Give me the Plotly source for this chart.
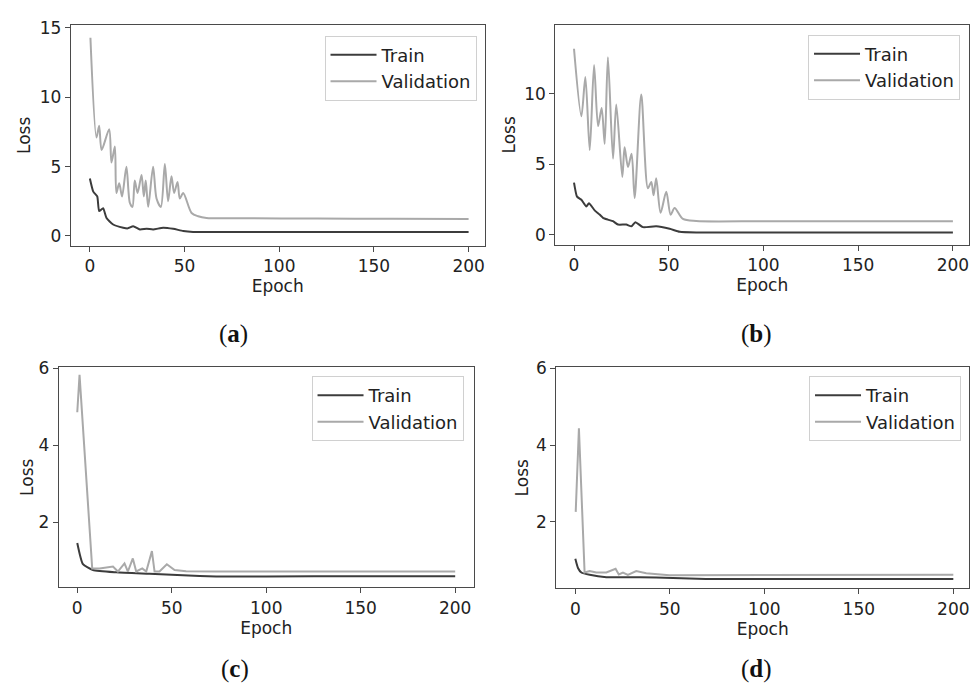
import plotly.graph_objects as go

# ---------------- data ----------------
# (a)
a_train_ep = [0, 1.8, 3.9, 4.9, 7, 8.8, 12.3, 17.6, 20, 22.9, 26.4, 30, 33.4, 38.7, 44, 49.3, 54.5, 70, 100, 150, 200]
a_train = [4.15, 3.2, 2.85, 1.8, 2.0, 1.3, 0.83, 0.6, 0.55, 0.7, 0.47, 0.52, 0.47, 0.6, 0.52, 0.36, 0.29, 0.28, 0.28, 0.28, 0.28]
a_val_ep = [0.3, 3.5, 4.9, 6.2, 10.2, 11.4, 13.2, 14, 15.5, 17, 19.3, 21.1, 22.5, 23.7, 25.2, 27.3, 28.5, 29.5,
            30.8, 33.4, 35.2, 37.5, 39.6, 41.3, 43.1, 44.5, 46.3, 47.5, 49.3, 53.7, 57.2, 61.6, 80, 120, 160, 200]
a_val = [14.3, 7.1, 7.95, 6.2, 7.7, 5.3, 6.45, 3.1, 3.8, 2.85, 5.0, 2.4, 2.1, 4.0, 3.1, 4.4, 2.85, 4.0,
         2.1, 5.0, 2.7, 2.1, 5.2, 2.5, 4.3, 3.1, 3.9, 2.7, 3.1, 1.66, 1.42, 1.3, 1.28, 1.26, 1.24, 1.23]

# (b)
b_train_ep = [0, 1.6, 3.9, 6.5, 7.9, 10.9, 13.5, 15.3, 17.9, 20.6, 23.2, 27.6, 30.3, 32.4, 36.4, 43.4, 50.5, 55.8, 64.5, 100, 150, 200]
b_train = [3.7, 2.7, 2.48, 2.0, 2.24, 1.73, 1.43, 1.2, 1.07, 0.96, 0.72, 0.72, 0.6, 0.89, 0.54, 0.6, 0.42, 0.21, 0.16, 0.16, 0.16, 0.16]
b_val_ep = [0, 3.9, 6, 8.3, 10.6, 12.7, 14.6, 16.2, 17.9, 20.6, 22.3, 25.5, 26.7, 28.5, 30.4, 32, 35.5, 39, 40.8,
            42, 43.4, 45.7, 48.7, 51, 53.1, 57.5, 64.5, 100, 150, 200]
b_val = [13.2, 8.4, 11.2, 6.0, 12.05, 7.7, 9.0, 6.45, 12.6, 5.4, 9.25, 4.1, 6.2, 4.8, 5.75, 2.6, 9.95, 3.3, 3.75,
         2.8, 4.0, 1.55, 3.05, 1.42, 1.9, 1.12, 0.97, 0.96, 0.96, 0.96]

# (c)
c_train_ep = [0, 3, 8.3, 20.6, 38.2, 55.9, 73.5, 100, 150, 200]
c_train = [1.46, 0.91, 0.76, 0.70, 0.66, 0.62, 0.59, 0.59, 0.60, 0.60]
c_val_ep = [0, 1.2, 7.9, 11.8, 18.9, 21.5, 25, 26.8, 29.4, 31.2, 34.4, 36.5, 39.5, 40.9, 43.5, 47.4, 51.5, 57.6, 73.5, 200]
c_val = [4.86, 5.83, 0.80, 0.80, 0.85, 0.72, 0.93, 0.72, 1.06, 0.72, 0.80, 0.72, 1.25, 0.72, 0.72, 0.91, 0.76, 0.73, 0.72, 0.72]

# (d)
d_train_ep = [0, 1.4, 3.2, 7.6, 16.4, 25.2, 42.8, 69, 100, 150, 200]
d_train = [1.04, 0.80, 0.68, 0.62, 0.56, 0.56, 0.55, 0.51, 0.51, 0.51, 0.51]
d_val_ep = [0.2, 1.9, 4.9, 7.6, 11.1, 16.4, 21.3, 23, 25.2, 27.8, 32.2, 37.5, 49.8, 100, 200]
d_val = [2.26, 4.44, 0.68, 0.72, 0.68, 0.68, 0.78, 0.63, 0.68, 0.62, 0.72, 0.66, 0.61, 0.61, 0.62]

captions = ["a", "b", "c", "d"]
x_ticks = [0, 50, 100, 150, 200]
ab_y_ticks = {"a": [0, 5, 10, 15], "b": [0, 5, 10]}
cd_y_ticks = [2, 4, 6]

TRAIN_C = "#3c3c3c"
VAL_C = "#a9a9a9"
FONT = "DejaVu Sans"
W, H = 978, 684

# panel geometry in pixels: left, right, top, bottom, xrange, yrange
panels = {
    "a": dict(px=(71, 485), py=(16, 240), xr=[-10.0, 208.4], yr=[-0.71, 15.23], yt=ab_y_ticks["a"],
              data=(a_train_ep, a_train, a_val_ep, a_val), shape="spline", leg=(477, 27), cap=(234, 329), ystand=4),
    "b": dict(px=(556, 970), py=(16, 239), xr=[-9.8, 208.5], yr=[-0.72, 14.9], yt=ab_y_ticks["b"],
              data=(b_train_ep, b_train, b_val_ep, b_val), shape="spline", leg=(961, 26), cap=(757, 329), ystand=4),
    "c": dict(px=(59, 474), py=(363, 586), xr=[-9.7, 209.7], yr=[0.31, 6.03], yt=cd_y_ticks,
              data=(c_train_ep, c_train, c_val_ep, c_val), shape="linear", leg=(464, 372), cap=(235, 669), ystand=0),
    "d": dict(px=(557, 970), py=(363, 587), xr=[-10.0, 208.3], yr=[0.27, 6.03], yt=cd_y_ticks,
              data=(d_train_ep, d_train, d_val_ep, d_val), shape="linear", leg=(962, 372), cap=(757, 669), ystand=3),
}

fig = go.Figure()
layout = dict(width=W, height=H, margin=dict(l=0, r=0, t=0, b=0),
              paper_bgcolor="white", plot_bgcolor="white", annotations=[])

for i, key in enumerate(captions):
    p = panels[key]
    n = "" if i == 0 else str(i + 1)
    xa, ya = "x" + n, "y" + n
    lg = "legend" + n
    tr_x, tr_y, va_x, va_y = p["data"]
    fig.add_trace(go.Scatter(x=tr_x, y=tr_y, mode="lines", name="Train", xaxis=xa, yaxis=ya, legend=lg,
                             line=dict(color=TRAIN_C, width=2, shape="spline", smoothing=0.5)))
    fig.add_trace(go.Scatter(x=va_x, y=va_y, mode="lines", name="Validation", xaxis=xa, yaxis=ya, legend=lg,
                             line=dict(color=VAL_C, width=2, shape=p["shape"],
                                       **({"smoothing": 0.8} if p["shape"] == "spline" else {}))))
    axis_common = dict(showline=True, linecolor="#4a4a4a", linewidth=1.2, mirror=True, showgrid=False,
                       zeroline=False, ticks="outside", ticklen=5, tickwidth=1.1, tickcolor="#4a4a4a",
                       tickfont=dict(family=FONT, size=17, color="#222"))
    layout["xaxis" + n] = dict(axis_common, domain=[p["px"][0] / W, p["px"][1] / W], range=p["xr"],
                               tickvals=x_ticks, anchor=ya,
                               title=dict(text="Epoch", font=dict(family=FONT, size=17, color="#222"), standoff=3))
    layout["yaxis" + n] = dict(axis_common, domain=[1 - p["py"][1] / H, 1 - p["py"][0] / H], range=p["yr"],
                               tickvals=p["yt"], anchor=xa,
                               title=dict(text="Loss", font=dict(family=FONT, size=17, color="#222"),
                                          standoff=p["ystand"]))
    layout[lg] = dict(x=p["leg"][0] / W, y=1 - p["leg"][1] / H, xanchor="right", yanchor="top",
                      bgcolor="rgba(255,255,255,0.85)", bordercolor="#d0d0d0", borderwidth=1,
                      itemwidth=46,
                      font=dict(family=FONT, size=18, color="#222"), tracegroupgap=0)
    layout["annotations"].append(dict(text="(<b>%s</b>)" % key, x=p["cap"][0] / W, y=1 - p["cap"][1] / H,
                                      xref="paper", yref="paper", showarrow=False, xanchor="center",
                                      yanchor="middle",
                                      font=dict(family="Liberation Serif", size=25, color="#111")))

fig.update_layout(**layout)
fig.write_html("out.html", config={"displayModeBar": False},
               post_script="document.documentElement.style.margin='0';document.body.style.margin='0';"
                           "document.body.style.overflow='hidden';")
